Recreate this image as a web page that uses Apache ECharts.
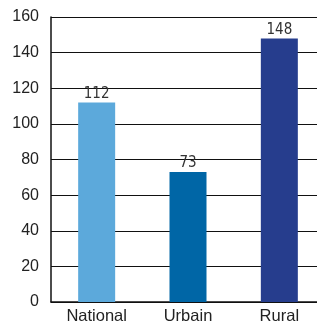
<!DOCTYPE html>
<html><head><meta charset="utf-8">
<script src="https://cdn.jsdelivr.net/npm/echarts@6/dist/echarts.min.js"></script>
<style>html,body{margin:0;padding:0;background:#fff}#c{width:317px;height:323px}</style>
</head><body><div id="c"></div>
<script>
const categories = ['National', 'Urbain', 'Rural'];
const values = [112, 73, 148];
const colors = ['#5ca9db', '#0066a6', '#263d8d'];
const chart = echarts.init(document.getElementById('c'));
chart.setOption({
  animation: false,
  grid: {left: 51, top: 17, width: 274, bottom: 21, outerBoundsMode: 'none', containLabel: false},
  xAxis: {
    type: 'category', data: categories,
    axisLine: {lineStyle: {color: '#111', width: 1.5}},
    axisTick: {show: false},
    axisLabel: {color: '#222', fontSize: 16.5, fontFamily: 'Liberation Sans, Arial', margin: 6}
  },
  yAxis: {
    type: 'value', min: 0, max: 160, interval: 20,
    axisLine: {show: true, lineStyle: {color: '#111', width: 1.5}},
    axisTick: {show: false},
    splitLine: {lineStyle: {color: '#111', width: 1}},
    axisLabel: {color: '#222', fontSize: 16, fontFamily: 'Liberation Sans, Arial', margin: 12}
  },
  series: [{
    type: 'bar', barWidth: 37,
    data: values.map((v, i) => ({value: v, itemStyle: {color: colors[i]}})),
    label: {show: true, position: 'top', distance: 1, color: '#333', fontSize: 15, fontFamily: 'DejaVu Sans Condensed, Liberation Sans Narrow', fontWeight: 'lighter'}
  }]
});
</script></body></html>
